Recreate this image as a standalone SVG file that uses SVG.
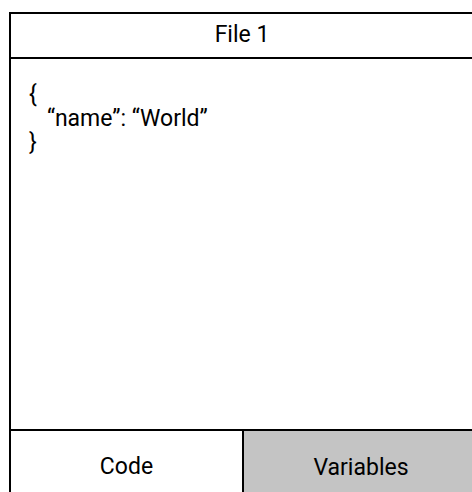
<svg xmlns="http://www.w3.org/2000/svg" width="472" height="492" viewBox="0 0 472 492">
<style>
.t{font-family:Roboto,"Liberation Sans",sans-serif;font-size:23px;fill:#000}
.c{text-anchor:middle}
.ln{stroke:#000;stroke-width:2;fill:none}
</style>
<rect width="472" height="492" fill="#fff"/>
<g id="tab-variables">
<rect x="243" y="430" width="236" height="70" fill="#c4c4c4"/>
<text class="t c" x="361" y="475">Variables</text>
</g>
<g id="tab-code">
<text class="t c" x="126.5" y="474">Code</text>
</g>
<g id="frame">
<rect class="ln" x="10" y="13" width="469" height="490"/>
<line class="ln" x1="10" y1="58" x2="479" y2="58"/>
<line class="ln" x1="10" y1="430" x2="479" y2="430"/>
<line class="ln" x1="243" y1="430" x2="243" y2="492"/>
</g>
<g id="header">
<text class="t c" x="242" y="42">File 1</text>
</g>
<g id="content">
<text class="t" x="29" y="102">{</text>
<text class="t" x="47" y="126">“name”: “World”</text>
<text class="t" x="29" y="150">}</text>
</g>
</svg>
